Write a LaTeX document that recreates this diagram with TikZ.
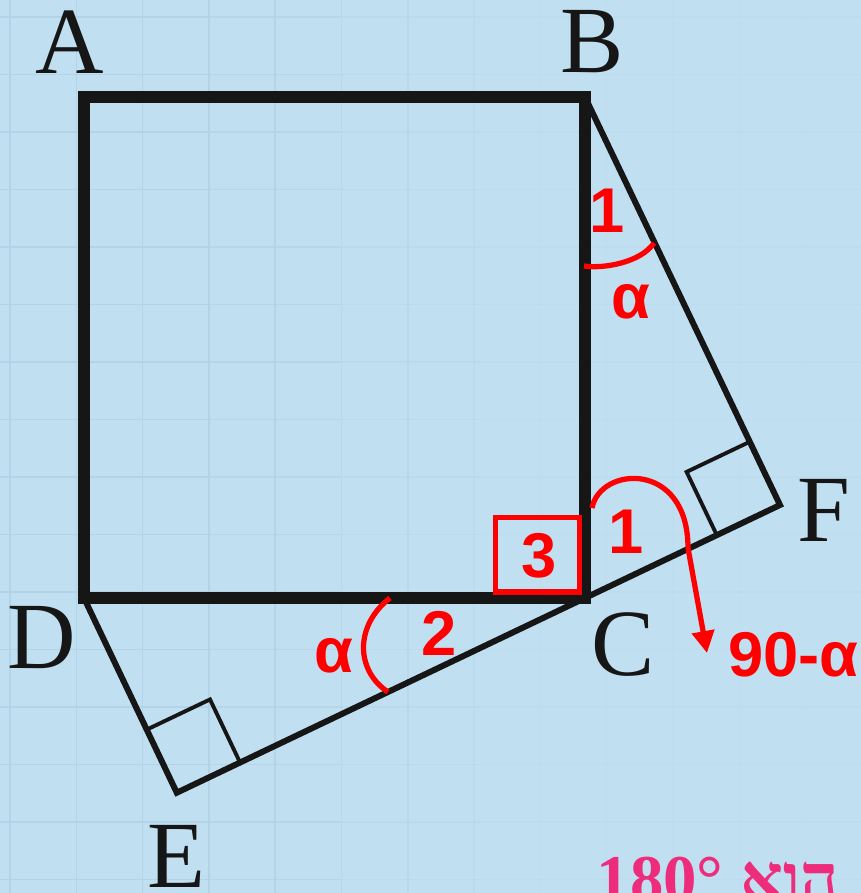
\documentclass[tikz,border=0pt]{standalone}
\usepackage{fontspec}
\setmainfont{Liberation Serif}
\newfontfamily\redfont{Liberation Sans}
\newfontfamily\hebfont[Script=Hebrew]{Liberation Serif}
\TeXXeTstate=1
\usetikzlibrary{calc,arrows.meta}
\definecolor{bgblue}{HTML}{C0DFF1}
\definecolor{gridblue}{HTML}{B2D3E8}
\definecolor{markred}{HTML}{FF0000}
\definecolor{pinktext}{HTML}{EE2C7C}
\definecolor{inkblack}{HTML}{161616}
\tikzset{
  gridline/.style={draw=gridblue, line width=0.9pt},
  sqline/.style={draw=inkblack, line width=6.3pt, line join=miter},
  triline/.style={draw=inkblack, line width=3.4pt, line join=miter},
  rightmark/.style={draw=inkblack, line width=2.2pt, line join=miter},
  redline/.style={draw=markred, line width=3pt},
  ptlabel/.style={inner sep=0pt, text=inkblack, font=\fontsize{54}{60}\selectfont},
  redlabel/.style={inner sep=0pt, text=markred, font=\redfont\bfseries\fontsize{36}{40}\selectfont},
}
\begin{document}
\begin{tikzpicture}[x=0.02cm, y=-0.02cm]
\fill[bgblue] (0,0) rectangle (861,893);
\useasboundingbox (0,0) rectangle (861,893);
% faint grid, fading towards the right
\foreach \i/\op in {0/1,1/1,2/1,3/0.9,4/0.8,5/0.6,6/0.45,7/0.3,8/0.2,9/0.15,10/0.1,11/0.1,12/0.1}
  \draw[gridline, draw opacity=\op] ({10+66.3*\i},0) -- ({10+66.3*\i},893);
\foreach \j in {0,...,15}{
  \draw[gridline] (0,{17+57.5*\j}) -- (210,{17+57.5*\j});
  \draw[gridline, draw opacity=0.7] (210,{17+57.5*\j}) -- (340,{17+57.5*\j});
  \draw[gridline, draw opacity=0.4] (340,{17+57.5*\j}) -- (480,{17+57.5*\j});
  \draw[gridline, draw opacity=0.15] (480,{17+57.5*\j}) -- (861,{17+57.5*\j});
}

% points
\coordinate (A) at (84,97);
\coordinate (B) at (585,97);
\coordinate (C) at (585,598);
\coordinate (D) at (84,598);
\coordinate (F) at (780,505);
\coordinate (E) at (176.8,792.7);

% triangles
\draw[triline] (D) -- (E) -- (F) -- (B);

% right-angle marks
\coordinate (Fa) at ($(F)!0.324!(C)$);
\coordinate (Fb) at ($(F)!0.155!(B)$);
\draw[rightmark] (Fa) -- ($(Fa)+(Fb)-(F)$) -- (Fb);
\coordinate (Ea) at ($(E)!0.155!(C)$);
\coordinate (Eb) at ($(E)!0.324!(D)$);
\draw[rightmark] (Ea) -- ($(Ea)+(Eb)-(E)$) -- (Eb);

% square
\draw[sqline] (A) -- (B) -- (C) -- (D) -- cycle;

% vertex labels
\node[ptlabel] (lA) at (70,42) {A};
\node[ptlabel] (lB) at (592,42) {B};
\node[ptlabel] (lC) at (623,645) {C};
\node[ptlabel] (lD) at (42,638) {D};
\node[ptlabel] (lE) at (176,856) {E};
\node[ptlabel] (lF) at (824,510) {F};

% angle at B
\coordinate (bs) at (584,266);
\coordinate (be) at (654,243);
\draw[redline] (bs) .. controls (605,269) and (641,262) .. (be);
\node[redlabel] (n1b) at (607,211) {1};
\node[redlabel] (ab) at (631,302) {α};

% angle at C with arrow
\coordinate (arrS) at (592,508);
\coordinate (arrM) at (688,548);
\coordinate (arrT) at (707,653);
\draw[redline, -{Triangle[length=12.5pt, width=12.5pt]}] (arrS) .. controls (600,466) and (688,460) .. (arrM) -- (arrT);
\node[redlabel] (n1c) at (626,532) {1};
\node[redlabel, anchor=west] (ninety) at (728,655) {90-α};

% box 3
\draw[redline] (495.5,517.5) rectangle (579.5,592);
\node[redlabel] (n3) at (539,556) {3};

% angle 2
\coordinate (pa) at (390,598);
\coordinate (pb) at (388,692);
\draw[redline] (pa) .. controls (355,625) and (355,670) .. (pb);
\node[redlabel] (a2) at (334,656) {α};
\node[redlabel] (n2) at (439,633) {2};

% hebrew text (cut off at the bottom edge)
\node[anchor=base east, inner sep=0pt, text=pinktext, font=\hebfont\bfseries\fontsize{38}{42}\selectfont] (heb) at (839,901) {\beginR הוא \beginL180°\endL\endR};
\end{tikzpicture}
\end{document}
